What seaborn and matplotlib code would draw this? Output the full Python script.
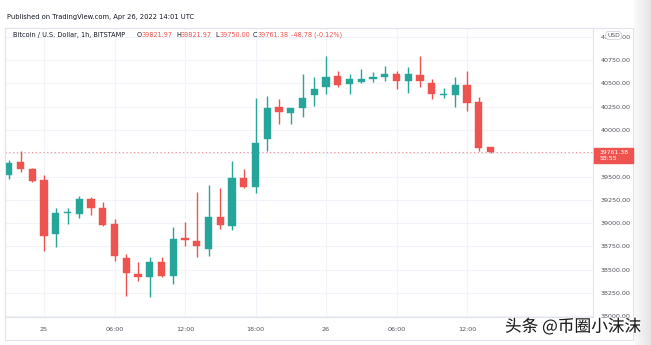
import matplotlib
matplotlib.use("Agg")
import matplotlib.pyplot as plt
import seaborn as sns
import numpy as np
import pandas as pd
from matplotlib.patches import Rectangle
from matplotlib.lines import Line2D
from matplotlib.colors import LinearSegmentedColormap
import matplotlib.patheffects as pe

# ---------------- data (hours relative to Apr 25 00:00 UTC) ----------------
hours = [-3, -2, -1, 0, 1, 2, 3, 4, 5, 6, 7, 8, 9, 10, 11, 12, 13, 14, 15, 16, 17,
         18, 19, 20, 21, 22, 23, 24, 25, 26, 27, 28, 29, 30, 31, 32, 33, 34, 35, 36, 37, 38]
opens = [39517, 39657, 39580, 39464, 38884, 39109, 39099, 39260, 39163, 38991, 38627,
         38455, 38423, 38584, 38434, 38841, 38809, 38723, 39067, 38970, 39485,
         39388, 39903, 40247, 40182, 40236, 40375, 40461, 40579, 40494, 40515,
         40547, 40569, 40601, 40526, 40590, 40504, 40375, 40375, 40483, 40300, 39821.97]
highs = [39678, 39775, 39592, 39517, 39163, 39163, 39292, 39281, 39227, 39045, 38669,
         38584, 38637, 38637, 38959, 39013, 39335, 39410, 39378, 39667, 39582,
         40343, 40365, 40333, 40236, 40601, 40569, 40794, 40633, 40601, 40655,
         40622, 40687, 40633, 40676, 40794, 40547, 40451, 40569, 40633, 40354, 39821.97]
lows = [39474, 39549, 39442, 38702, 38745, 38991, 39056, 39088, 38970, 38594, 38219,
        38380, 38208, 38423, 38348, 38755, 38637, 38648, 38938, 38927, 39378,
        39324, 39775, 40064, 40064, 40140, 40258, 40386, 40461, 40386, 40504,
        40515, 40526, 40440, 40397, 40461, 40333, 40343, 40247, 40204, 39775, 39750.00]
closes = [39646, 39582, 39453, 38863, 39109, 39120, 39260, 39163, 38980, 38648, 38466,
          38423, 38584, 38434, 38830, 38820, 38755, 39067, 38981, 39485, 39388,
          39860, 40236, 40193, 40236, 40343, 40440, 40569, 40483, 40547, 40547,
          40569, 40601, 40526, 40601, 40526, 40386, 40386, 40483, 40290, 39807, 39761.38]

x_tick_pos = [0, 6, 12, 18, 24, 30, 36]
x_tick_labels = ["25", "06:00", "12:00", "18:00", "26", "06:00", "12:00"]
y_ticks = [38000, 38250, 38500, 38750, 39000, 39250, 39500, 39750, 40000,
           40250, 40500, 40750, 41000]
y_labels = ["38000.00", "38250.00", "38500.00", "38750.00", "39000.00", "39250.00",
            "39500.00", "", "40000.00", "40250.00", "40500.00", "40750.00", "41000.00"]
last_price = 39761.38

header = "Published on TradingView.com, Apr 26, 2022 14:01 UTC"
symbol = "Bitcoin / U.S. Dollar, 1h, BITSTAMP"
ohlc_letters = ["O", "H", "L", "C"]
ohlc_values = ["39821.97", "39821.97", "39750.00", "39761.38"]
change_text = "-48.78 (-0.12%)"
watermark = "头条 @币圈小沫沫"

# ---------------- style ----------------
sns.set_theme(style="white")
plt.rcParams['font.family'] = ['DejaVu Sans', 'Noto Sans CJK SC']

UP = "#26a69a"
DOWN = "#ef5350"
GRID = "#f0f3fa"
BORDER = "#e0e3eb"
TXT = "#131722"

W, H = 651, 345
def fx(px):
    return px / W
def fy(py):
    return 1 - py / H

fig = plt.figure(figsize=(6.51, 3.45), dpi=100)
fig.patch.set_facecolor("white")

ax_left, ax_right, ax_top, ax_bot = 5, 593, 28, 317
ax = fig.add_axes([fx(ax_left), fy(ax_bot), fx(ax_right - ax_left), (ax_bot - ax_top) / H])

df = pd.DataFrame({"hour": hours, "open": opens, "high": highs,
                   "low": lows, "close": closes})
df["up"] = df["close"] >= df["open"]
df["color"] = np.where(df["up"], UP, DOWN)
df["bottom"] = df[["open", "close"]].min(axis=1)
df["height"] = (df["close"] - df["open"]).abs().clip(lower=12)

# wicks and bodies
ax.vlines(df["hour"], df["low"], df["high"], colors=df["color"], linewidth=1.0, zorder=3)
ax.bar(df["hour"], df["height"], bottom=df["bottom"], width=0.6,
       color=df["color"], edgecolor=df["color"], linewidth=0.3, zorder=4)

# last price dotted line
ax.axhline(last_price, color=DOWN, linestyle=(0, (1.2, 2.2)), linewidth=0.8,
           alpha=0.6, zorder=2)

# scales
px_per_h = 11.75
x0 = 44
ax.set_xlim((ax_left - x0) / px_per_h, (ax_right - x0) / px_per_h)
ax.set_ylim(37991, 41096)

ax.set_xticks(x_tick_pos)
ax.set_xticklabels(x_tick_labels)
ax.yaxis.tick_right()
ax.set_yticks(y_ticks)
ax.set_yticklabels(y_labels)
ax.tick_params(axis="y", length=0, pad=5.5, labelsize=4.6, labelcolor="#50535e")
ax.tick_params(axis="x", length=0, pad=7.5, labelsize=4.6, labelcolor="#50535e")
ax.grid(True, color=GRID, linewidth=0.8)
for s in ax.spines.values():
    s.set_color(BORDER)
    s.set_linewidth(0.8)

# outer frame
for (xa, ya, xb, yb) in [(ax_left, ax_top, 633, ax_top), (633, ax_top, 633, 340),
                         (ax_left, 340, 633, 340), (ax_left, ax_top, ax_left, 340)]:
    fig.add_artist(Line2D([fx(xa), fx(xb)], [fy(ya), fy(yb)], color=BORDER, linewidth=0.8))

# right gray gradient strip
gax = fig.add_axes([fx(634), 0, fx(17), 1])
grad = np.linspace(0, 1, 64)[None, :]
cmap = LinearSegmentedColormap.from_list("g", ["#fafafa", "#e4e4e4"])
gax.imshow(grad, aspect="auto", cmap=cmap)
gax.axis("off")

# USD badge over 41000 label (as in the reference)
fig.text(fx(613.5), fy(35.5), "USD", fontsize=4.3, color="#50535e", ha="center", va="center",
         bbox=dict(boxstyle="round,pad=0.25,rounding_size=0.5", fc="white", ec="#c8cbd3", lw=0.5),
         zorder=10)

# last price badge
fig.add_artist(Rectangle((fx(594), fy(163)), fx(39), (163 - 148) / H, color=DOWN,
                         transform=fig.transFigure, zorder=9))
fig.text(fx(600), fy(152), "39761.38", fontsize=4.4, color="white", va="center", zorder=10)
fig.text(fx(600), fy(159), "58:55", fontsize=4.4, color="white", va="center", zorder=10)

# header and legend
fig.text(fx(7), fy(17), header, fontsize=4.9, color=TXT, va="center")
fig.text(fx(13), fy(35), symbol, fontsize=4.7, color=TXT, va="center")
for lx, letter, val in zip([137, 176, 215, 253], ohlc_letters, ohlc_values):
    fig.text(fx(lx), fy(35), letter, fontsize=4.7, color=TXT, va="center")
    fig.text(fx(lx + 4.6), fy(35), val, fontsize=4.7, color=DOWN, va="center")
fig.text(fx(291), fy(35), change_text, fontsize=4.7, color=DOWN, va="center")

# watermark
fig.text(fx(505), fy(327), watermark, fontsize=12, color="#1c1c1c", va="center",
         family=["Noto Sans CJK SC", "DejaVu Sans"], zorder=12,
         path_effects=[pe.withStroke(linewidth=1.5, foreground="white", alpha=0.6)])

fig.savefig("out.png", dpi=100, facecolor="white")
